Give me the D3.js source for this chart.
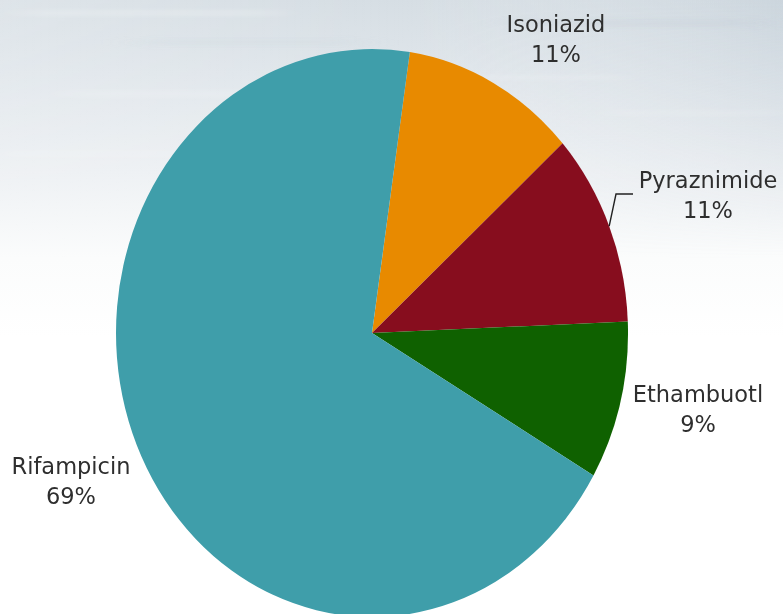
<!DOCTYPE html>
<html>
<head>
<meta charset="utf-8">
<script src="https://cdn.jsdelivr.net/npm/d3@7"></script>
<style>
  html, body { margin: 0; padding: 0; background: #ffffff; }
  svg { display: block; }
</style>
</head>
<body>
<svg id="chart" width="783" height="614"></svg>
<script>
// Share of drug resistance by first-line drug
const drugs = ["Isoniazid", "Pyraznimide", "Ethambuotl", "Rifampicin"];
const shares = [11, 11, 9, 69];
const labels = ["11%", "11%", "9%", "69%"];
const colors = ["#E88A00", "#870D1E", "#0F6100", "#3F9EAA"];

const W = 783, H = 614;
const cx = 372, cy = 333;
const radius = 256;
const yStretch = 284 / 256;           // the pie is drawn slightly taller than wide
const startDeg = 8.5;                 // first slice begins just right of 12 o'clock

const svg = d3.select("#chart");

// ---- background: cool grey-blue sky fading to white ----
const defs = svg.append("defs");
const bg = defs.append("linearGradient").attr("id", "bg")
  .attr("x1", 0).attr("y1", 0).attr("x2", 0).attr("y2", 1);
[[0, "#d6dee4"], [0.12, "#e0e6eb"], [0.28, "#eef1f4"], [0.42, "#fbfcfc"], [0.55, "#ffffff"], [1, "#ffffff"]]
  .forEach(([o, c]) => bg.append("stop").attr("offset", o).attr("stop-color", c));
const side = defs.append("linearGradient").attr("id", "side")
  .attr("x1", 0).attr("y1", 0).attr("x2", 1).attr("y2", 0);
[[0, "#ffffff", 0.2], [0.5, "#ffffff", 0], [1, "#b9c6d1", 0.35]]
  .forEach(([o, c, a]) => side.append("stop").attr("offset", o).attr("stop-color", c).attr("stop-opacity", a));
const fade = defs.append("linearGradient").attr("id", "fade")
  .attr("x1", 0).attr("y1", 0).attr("x2", 0).attr("y2", 1);
[[0, 1], [1, 0]].forEach(([o, a]) => fade.append("stop").attr("offset", o).attr("stop-color", "#fff").attr("stop-opacity", a));
const fadeMask = defs.append("mask").attr("id", "fadeMask");
fadeMask.append("rect").attr("width", W).attr("height", 260).attr("fill", "url(#fade)");

defs.append("filter").attr("id", "streak")
  .append("feGaussianBlur").attr("stdDeviation", "18 2");

svg.append("rect").attr("width", W).attr("height", H).attr("fill", "url(#bg)");
svg.append("rect").attr("width", W).attr("height", 260).attr("fill", "url(#side)")
  .attr("mask", "url(#fadeMask)");

// soft horizontal streaks in the sky
const streaks = svg.append("g").attr("filter", "url(#streak)").attr("mask", "url(#fadeMask)");
[[20, 10, 260, 6, "#ffffff", 0.2], [140, 40, 220, 5, "#c8d2da", 0.25], [520, 20, 240, 6, "#c3ced8", 0.3],
 [60, 90, 300, 8, "#ffffff", 0.2], [600, 110, 180, 6, "#ffffff", 0.2], [0, 150, 200, 8, "#ffffff", 0.25],
 [430, 75, 200, 5, "#ffffff", 0.2], [250, 120, 250, 6, "#d0d9e0", 0.25]]
  .forEach(([x, y, w, h, c, a]) => streaks.append("rect")
    .attr("x", x).attr("y", y).attr("width", w).attr("height", h)
    .attr("fill", c).attr("opacity", a));

// ---- pie ----
const pie = d3.pie().sort(null).value(d => d)
  .startAngle(startDeg * Math.PI / 180)
  .endAngle(startDeg * Math.PI / 180 + 2 * Math.PI);
const arcs = pie(shares);
const arc = d3.arc().innerRadius(0).outerRadius(radius);

const g = svg.append("g")
  .attr("transform", `translate(${cx},${cy}) scale(1,${yStretch})`);
g.selectAll("path").data(arcs).join("path")
  .attr("d", arc)
  .attr("fill", (d, i) => colors[i])
  .attr("stroke", "none");

// map a point in pie space to page space
const toPage = ([x, y]) => [cx + x, cy + y * yStretch];
const edgePoint = d => {
  const a = (d.startAngle + d.endAngle) / 2;
  return toPage([radius * Math.sin(a), -radius * Math.cos(a)]);
};

// ---- labels ----
const labelPos = {
  "Isoniazid":   { x: 556, y: 32 },
  "Pyraznimide": { x: 708, y: 188 },
  "Ethambuotl":  { x: 698, y: 402 },
  "Rifampicin":  { x: 71,  y: 474 }
};

const lab = svg.append("g")
  .attr("font-family", "'DejaVu Sans', sans-serif")
  .attr("font-size", 22.5)
  .attr("fill", "#2e2e2e")
  .attr("text-anchor", "middle");

drugs.forEach((name, i) => {
  const p = labelPos[name];
  const t = lab.append("text").attr("x", p.x).attr("y", p.y);
  t.append("tspan").attr("x", p.x).text(name);
  t.append("tspan").attr("x", p.x).attr("dy", 30).text(labels[i]);
});

// leader line for the Pyraznimide slice
const pz = arcs[drugs.indexOf("Pyraznimide")];
const [sx, sy] = edgePoint(pz);
svg.append("path")
  .attr("d", d3.line()([[sx, sy], [616, 194], [633, 194]]))
  .attr("fill", "none")
  .attr("stroke", "#222")
  .attr("stroke-width", 1.4);
</script>
</body>
</html>
